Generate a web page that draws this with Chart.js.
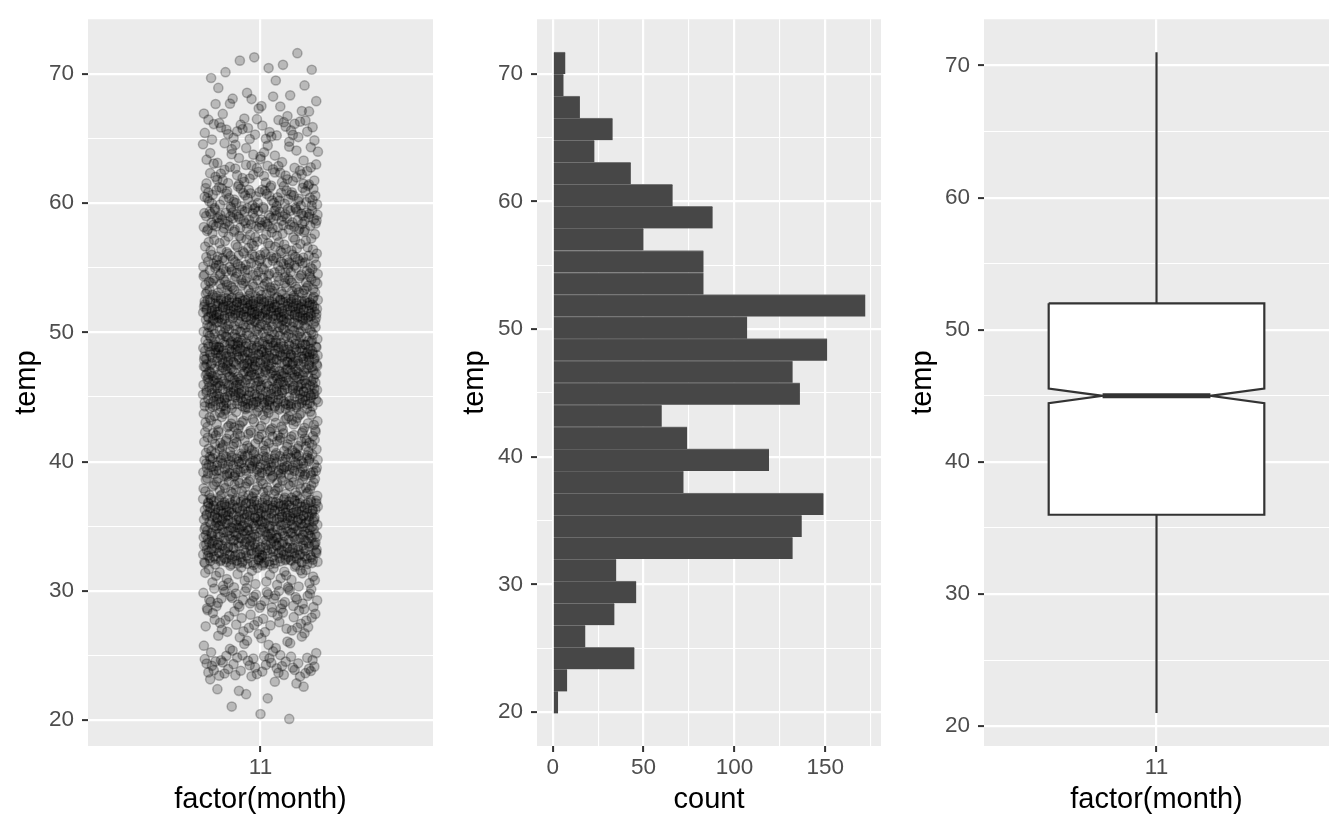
<!DOCTYPE html>
<html>
<head>
<meta charset="utf-8">
<script src="https://cdn.jsdelivr.net/npm/chart.js@4.4.1/dist/chart.umd.min.js"></script>
<style>
  html, body { margin: 0; padding: 0; background: #ffffff; }
  #wrap { position: relative; width: 1344px; height: 830px; }
  #wrap canvas { position: absolute; top: 0; }
</style>
</head>
<body>
<div id="wrap">
  <canvas id="jitterChart" width="448" height="830" style="left:0px;width:448px;height:830px"></canvas>
  <canvas id="histChart" width="448" height="830" style="left:448px;width:448px;height:830px"></canvas>
  <canvas id="boxChart" width="448" height="830" style="left:896px;width:448px;height:830px"></canvas>
</div>
<script>
// Month category on the x axis of the jitter and box panels
const monthLabels = ["11"];

// Histogram of temp: 30 bins, counts listed from the lowest bin to the highest
const binStart = 19.9;
const binWidth = 1.727;
const binCounts = [3, 8, 45, 18, 34, 46, 35, 132, 137, 149,
                   72, 119, 74, 60, 136, 132, 151, 107, 172, 83,
                   83, 50, 88, 66, 43, 23, 33, 15, 6, 7];

// Notched boxplot stats: lower whisker, Q1, median, Q3, upper whisker
const boxFive = [21, 36, 45, 52, 71];
const boxNotch = [44.45, 45.55];

// Tick values
const tempMajor = [20, 30, 40, 50, 60, 70];
const tempMinor = [25, 35, 45, 55, 65];
const countMajor = [0, 50, 100, 150];
const countMinor = [25, 75, 125, 175];

const fontFamily = "'Liberation Sans', Arial, Helvetica, sans-serif";
const tickFont = { family: fontFamily, size: 22.5, lineHeight: 1 };
const titleFont = { family: fontFamily, size: 29, lineHeight: 1 };

// Halton sequence, used only to spread the jittered points evenly
function halton(i, base){
    let f = 1, r = 0;
    while (i > 0){
        f = f / base;
        r = r + f * (i % base);
        i = Math.floor(i / base);
    }
    return r;
}

// Jittered points: one per observation in each histogram bin,
// spread over the bin and across the jitter width (+-0.2)
const jitterPoints = [];
let pointIndex = 1;
binCounts.forEach(function(n, b){
    for (let k = 0; k < n; k++){
        const u = halton(pointIndex, 2);
        const v = halton(pointIndex, 3);
        pointIndex++;
        jitterPoints.push({ x: 1 + (u * 2 - 1) * 0.2, y: binStart + binWidth * (b + v) });
    }
});

// Grey panel background like ggplot
const panelBg = {
    id: "panelBg",
    beforeDraw: function(chart){
        const a = chart.chartArea;
        const c = chart.ctx;
        c.save();
        c.fillStyle = "#ebebeb";
        c.fillRect(a.left, a.top, a.right - a.left, a.bottom - a.top);
        c.restore();
    }
};

function tickList(major, minor){
    return major.concat(minor).sort(function(a, b){ return a - b; }).map(function(v){ return { value: v }; });
}

function isIn(list, c){
    return c.tick ? list.indexOf(c.tick.value) >= 0 : false;
}

function valueAxis(major, minor, min, max, titleText, isY, size){
    return {
        type: "linear",
        min: min,
        max: max,
        offset: false,
        afterBuildTicks: function(s){ s.ticks = tickList(major, minor); },
        afterFit: function(s){ if (isY) { s.width = size; } else { s.height = size; } },
        border: { display: false },
        grid: {
            offset: false,
            color: "#ffffff",
            lineWidth: function(c){ return isIn(major, c) ? 2.2 : 1.1; },
            tickColor: function(c){ return isIn(major, c) ? "#333333" : "rgba(0,0,0,0)"; },
            tickWidth: 2,
            tickLength: 6
        },
        ticks: {
            color: "#4d4d4d",
            font: tickFont,
            padding: isY ? 8 : 5,
            autoSkip: false,
            maxRotation: 0,
            callback: function(v){ return major.indexOf(v) >= 0 ? String(v) : ""; }
        },
        title: {
            display: true,
            text: titleText,
            color: "#000000",
            font: titleFont,
            padding: isY ? { top: 12, bottom: 0 } : { top: 0, bottom: 16 }
        }
    };
}

function monthAxis(){
    return {
        type: "linear",
        min: 0.4,
        max: 1.6,
        afterBuildTicks: function(s){ s.ticks = monthLabels.map(function(m, i){ return { value: i + 1 }; }); },
        afterFit: function(s){ s.height = 84; },
        border: { display: false },
        grid: { color: "#ffffff", lineWidth: 2.2, tickColor: "#333333", tickWidth: 2, tickLength: 6 },
        ticks: {
            color: "#4d4d4d",
            font: tickFont,
            padding: 5,
            autoSkip: false,
            maxRotation: 0,
            callback: function(v){ return monthLabels[v - 1]; }
        },
        title: {
            display: true,
            text: "factor(month)",
            color: "#000000",
            font: titleFont,
            padding: { top: 0, bottom: 16 }
        }
    };
}

const baseOptions = {
    responsive: false,
    animation: false,
    layout: { padding: { top: 14, right: 15, left: 0, bottom: 0 } },
    plugins: { legend: { display: false }, tooltip: { enabled: false } }
};

// Panel 1: jittered points
new Chart(document.getElementById("jitterChart").getContext("2d"), {
    type: "scatter",
    data: {
        datasets: [{
            data: jitterPoints,
            pointRadius: 4.6,
            pointBackgroundColor: "rgba(0,0,0,0.21)",
            pointBorderColor: "rgba(0,0,0,0.25)",
            pointBorderWidth: 1.5
        }]
    },
    options: Object.assign({}, baseOptions, {
        scales: {
            x: monthAxis(),
            y: valueAxis(tempMajor, tempMinor, 18.0, 74.23, "temp", true, 88)
        }
    }),
    plugins: [panelBg]
});

// Panel 2: horizontal histogram
const binData = binCounts.map(function(n, i){
    return { x: n, y: binStart + binWidth * (i + 0.5) };
});

new Chart(document.getElementById("histChart").getContext("2d"), {
    type: "bar",
    data: {
        datasets: [{
            data: binData,
            backgroundColor: "#474747",
            borderColor: "#777777",
            borderWidth: { top: 1, right: 0, bottom: 0, left: 0 },
            borderSkipped: false,
            barPercentage: 1,
            categoryPercentage: 1
        }]
    },
    options: Object.assign({}, baseOptions, {
        indexAxis: "y",
        scales: {
            x: valueAxis(countMajor, countMinor, -8.6, 180.6, "count", false, 84),
            y: valueAxis(tempMajor, tempMinor, 17.35, 74.28, "temp", true, 89)
        }
    }),
    plugins: [panelBg]
});

// Panel 3: notched boxplot, built from the stats above
const boxHalf = 0.375;
const notchHalf = boxHalf / 2;
const boxOutline = [
    { x: 1 - boxHalf, y: boxFive[3] },
    { x: 1 + boxHalf, y: boxFive[3] },
    { x: 1 + boxHalf, y: boxNotch[1] },
    { x: 1 + notchHalf, y: boxFive[2] },
    { x: 1 + boxHalf, y: boxNotch[0] },
    { x: 1 + boxHalf, y: boxFive[1] },
    { x: 1 - boxHalf, y: boxFive[1] },
    { x: 1 - boxHalf, y: boxNotch[0] },
    { x: 1 - notchHalf, y: boxFive[2] },
    { x: 1 - boxHalf, y: boxNotch[1] },
    { x: 1 - boxHalf, y: boxFive[3] }
];

const lineStyle = { showLine: true, pointRadius: 0, borderColor: "#333333", tension: 0 };

new Chart(document.getElementById("boxChart").getContext("2d"), {
    type: "scatter",
    data: {
        datasets: [
            Object.assign({}, lineStyle, {
                data: [{ x: 1 - notchHalf, y: boxFive[2] }, { x: 1 + notchHalf, y: boxFive[2] }],
                borderWidth: 5
            }),
            Object.assign({}, lineStyle, {
                data: boxOutline,
                borderWidth: 2.2,
                borderJoinStyle: "miter",
                backgroundColor: "#ffffff",
                fill: "shape"
            }),
            Object.assign({}, lineStyle, {
                data: [{ x: 1, y: boxFive[3] }, { x: 1, y: boxFive[4] }],
                borderWidth: 2.2
            }),
            Object.assign({}, lineStyle, {
                data: [{ x: 1, y: boxFive[0] }, { x: 1, y: boxFive[1] }],
                borderWidth: 2.2
            })
        ]
    },
    options: Object.assign({}, baseOptions, {
        scales: {
            x: monthAxis(),
            y: valueAxis(tempMajor, tempMinor, 18.5, 73.5, "temp", true, 88)
        }
    }),
    plugins: [panelBg]
});
</script>
</body>
</html>
